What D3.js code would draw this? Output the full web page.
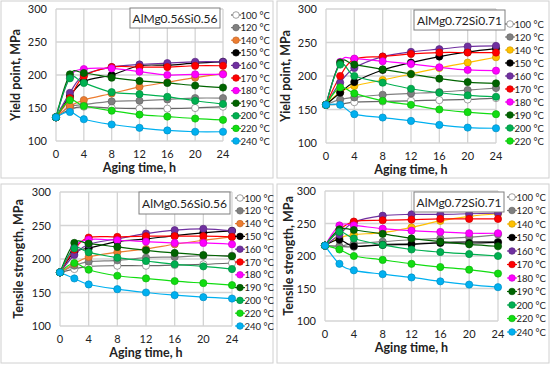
<!DOCTYPE html>
<html>
<head>
<meta charset="utf-8">
<script src="https://cdn.jsdelivr.net/npm/d3@7"></script>
<style>
  body { margin: 0; background: #fff; }
  svg text { font-family: Lato, "Open Sans", sans-serif; }
</style>
</head>
<body>
<div id="chart"></div>
<script>
// aging times (h) and temperatures
var times = [0, 2, 4, 8, 12, 16, 20, 24];
var temps = ['100 °C', '120 °C', '140 °C', '150 °C', '160 °C', '170 °C', '180 °C', '190 °C', '200 °C', '220 °C', '240 °C'];
var yTicks = [100, 150, 200, 250, 300];
var xTicks = [0, 4, 8, 12, 16, 20, 24];

// yield point, AlMg0.56Si0.56
var yield056 = [
  [136, 148, 152, 150, 149, 149, 150, 152],
  [136, 152, 155, 160, 161, 163, 165, 165],
  [136, 153, 162, 172, 182, 189, 196, 202],
  [136, 168, 190, 200, 214, 215, 218, 220],
  [136, 173, 200, 212, 216, 218, 220, 220],
  [136, 165, 198, 212, 212, 212, 214, 214],
  [136, 197, 209, 210, 205, 200, 201, 201],
  [136, 201, 203, 196, 191, 188, 184, 181],
  [136, 195, 188, 174, 171, 167, 161, 156],
  [136, 162, 153, 146, 140, 137, 134, 132],
  [136, 144, 133, 125, 120, 116, 114, 114]
];
// yield point, AlMg0.72Si0.71
var yield072 = [
  [157, 158, 161, 162, 163, 164, 165, 167],
  [157, 165, 168, 172, 174, 176, 179, 182],
  [157, 176, 185, 194, 203, 212, 220, 228],
  [157, 175, 191, 209, 220, 229, 236, 241],
  [157, 190, 212, 229, 236, 240, 244, 245],
  [157, 200, 225, 229, 233, 235, 235, 235],
  [157, 221, 226, 222, 218, 213, 209, 208],
  [157, 220, 217, 210, 203, 196, 191, 189],
  [157, 217, 200, 190, 181, 175, 171, 169],
  [157, 183, 174, 163, 157, 150, 146, 143],
  [157, 157, 143, 138, 133, 127, 123, 122]
];
// tensile strength, AlMg0.56Si0.56
var tensile056 = [
  [180, 185, 189, 190, 190, 191, 192, 194],
  [180, 190, 196, 198, 202, 203, 205, 205],
  [180, 193, 203, 210, 215, 222, 228, 233],
  [180, 210, 216, 226, 230, 235, 239, 242],
  [180, 206, 222, 230, 238, 243, 245, 242],
  [180, 214, 232, 233, 234, 234, 234, 233],
  [180, 218, 229, 228, 226, 224, 224, 222],
  [180, 224, 223, 218, 213, 209, 206, 204],
  [180, 216, 210, 202, 197, 192, 189, 185],
  [180, 194, 184, 175, 171, 167, 164, 161],
  [180, 171, 162, 155, 150, 146, 143, 141]
];
// tensile strength, AlMg0.72Si0.71
var tensile072 = [
  [216, 215, 214, 218, 219, 221, 222, 222],
  [216, 215, 219, 222, 225, 227, 229, 233],
  [216, 228, 233, 236, 244, 254, 261, 265],
  [216, 225, 215, 217, 218, 220, 220, 221],
  [216, 233, 252, 262, 264, 264, 265, 266],
  [216, 240, 253, 255, 256, 257, 257, 257],
  [216, 247, 247, 242, 239, 237, 235, 235],
  [216, 241, 240, 234, 227, 222, 218, 215],
  [216, 237, 227, 217, 210, 206, 203, 200],
  [216, 210, 200, 194, 188, 183, 179, 173],
  [216, 188, 178, 172, 167, 161, 156, 152]
];

var colorsA = ['#ffffff', '#808080', '#ED7D31', '#000000', '#7030A0', '#FF0000', '#FF00FF', '#006400', '#00B050', '#11dd11', '#00B0F0'];
var colorsB = ['#ffffff', '#808080', '#FFC000', '#000000', '#7030A0', '#FF0000', '#FF00FF', '#006400', '#00B050', '#11dd11', '#00B0F0'];

var svg = d3.select('#chart').append('svg')
  .attr('width', 550)
  .attr('height', 365);

function drawPanel(p) {
  var g = svg.append('g');

  // panel frame
  g.append('rect')
    .attr('x', p.box[0]).attr('y', p.box[1])
    .attr('width', p.box[2]).attr('height', p.box[3])
    .style('fill', 'none').style('stroke', '#d0d0d0').style('stroke-width', 1);

  var x = d3.scaleLinear().domain([0, 24]).range([p.x0, p.x1]);
  var y = d3.scaleLinear().domain([100, 300]).range([p.y1, p.y0]);

  // grid
  g.selectAll('.hg').data(yTicks).enter().append('line')
    .attr('x1', p.x0).attr('x2', p.x1)
    .attr('y1', function(d) { return y(d); }).attr('y2', function(d) { return y(d); })
    .style('stroke', '#d4d4d4').style('stroke-width', 1.3);
  g.selectAll('.vg').data(xTicks).enter().append('line')
    .attr('y1', p.y0).attr('y2', p.y1)
    .attr('x1', function(d) { return x(d); }).attr('x2', function(d) { return x(d); })
    .style('stroke', '#d4d4d4').style('stroke-width', 1.3);

  // tick labels
  g.selectAll('.yl').data(yTicks).enter().append('text')
    .text(function(d) { return d; })
    .attr('x', p.x0 - 9)
    .attr('y', function(d) { return y(d) + 4; })
    .attr('text-anchor', 'end')
    .style('font-size', '11px').style('fill', '#222');
  g.selectAll('.xl').data(xTicks).enter().append('text')
    .text(function(d) { return d; })
    .attr('x', function(d) { return x(d); })
    .attr('y', p.y1 + 17)
    .attr('text-anchor', 'middle')
    .style('font-size', '11px').style('fill', '#222');

  // axis titles
  g.append('text')
    .text('Aging time, h')
    .attr('x', (p.x0 + p.x1) / 2)
    .attr('y', p.y1 + 31)
    .attr('text-anchor', 'middle')
    .style('font-size', '12.5px').style('font-weight', 'bold').style('fill', '#222');
  g.append('text')
    .text(p.yTitle)
    .attr('transform', 'translate(' + p.yTitleX + ',' + ((p.y0 + p.y1) / 2) + ') rotate(-90)')
    .attr('text-anchor', 'middle')
    .style('font-size', '12.5px').style('font-weight', 'bold').style('fill', '#222');

  var line = d3.line()
    .x(function(d, i) { return x(times[i]); })
    .y(function(d) { return y(d); })
    .curve(d3.curveCardinal.tension(0));

  // lines
  p.data.forEach(function(s, k) {
    g.append('path')
      .attr('d', line(s))
      .style('fill', 'none')
      .style('stroke', k === 0 ? '#666' : p.colors[k])
      .style('stroke-width', 1.2);
  });
  // markers
  p.data.forEach(function(s, k) {
    g.selectAll('.m' + k).data(s).enter().append('circle')
      .attr('cx', function(d, i) { return x(times[i]); })
      .attr('cy', function(d) { return y(d); })
      .attr('r', 3.6)
      .style('fill', p.colors[k])
      .style('stroke', k === 0 ? '#777' : d3.color(p.colors[k]).darker(0.6))
      .style('stroke-width', 0.7);
  });

  // alloy label box
  g.append('rect')
    .attr('x', p.label[0]).attr('y', p.label[1])
    .attr('width', p.label[2]).attr('height', p.label[3])
    .style('fill', '#fff').style('stroke', '#808080').style('stroke-width', 1);
  g.append('text')
    .text(p.alloy)
    .attr('x', p.label[0] + p.label[2] / 2)
    .attr('y', p.label[1] + p.label[3] / 2 + 4.5)
    .attr('text-anchor', 'middle')
    .style('font-size', '12px').style('fill', '#222');

  // legend
  var n = p.legendCount;
  var leg = g.selectAll('.leg').data(temps.slice(0, n)).enter().append('g')
    .attr('transform', function(d, i) { return 'translate(' + p.legX + ',' + (p.legY + i * p.legStep) + ')'; });
  leg.append('line')
    .attr('x1', -5).attr('x2', 5)
    .style('stroke', function(d, i) { return i === 0 ? '#666' : p.colors[i]; })
    .style('stroke-width', 1.2);
  leg.append('circle')
    .attr('r', 3.3)
    .style('fill', function(d, i) { return p.colors[i]; })
    .style('stroke', function(d, i) { return i === 0 ? '#777' : d3.color(p.colors[i]).darker(0.6); })
    .style('stroke-width', 0.7);
  leg.append('text')
    .text(function(d) { return d; })
    .attr('x', 4.5)
    .attr('y', 3.5)
    .style('font-size', '9.5px').style('fill', '#222');
}

drawPanel({
  box: [1, 1, 272, 177], x0: 56, x1: 223, y0: 9, y1: 141,
  data: yield056, colors: colorsA, yTitle: 'Yield point, MPa', yTitleX: 20,
  alloy: 'AlMg0.56Si0.56', label: [130, 8, 90, 20],
  legX: 236, legY: 15, legStep: 12.6, legendCount: 11
});
drawPanel({
  box: [277, 1, 272, 177], x0: 326, x1: 496, y0: 9, y1: 143,
  data: yield072, colors: colorsB, yTitle: 'Yield point, MPa', yTitleX: 290,
  alloy: 'AlMg0.72Si0.71', label: [414, 10, 91, 20],
  legX: 510, legY: 24, legStep: 13, legendCount: 10
});
drawPanel({
  box: [1, 184, 272, 179], x0: 60, x1: 232, y0: 192, y1: 326,
  data: tensile056, colors: colorsA, yTitle: 'Tensile strength, MPa', yTitleX: 23,
  alloy: 'AlMg0.56Si0.56', label: [139, 192, 91, 22],
  legX: 240, legY: 198, legStep: 12.8, legendCount: 11
});
drawPanel({
  box: [277, 184, 272, 179], x0: 325, x1: 498, y0: 191, y1: 321,
  data: tensile072, colors: colorsB, yTitle: 'Tensile strength, MPa', yTitleX: 293,
  alloy: 'AlMg0.72Si0.71', label: [414, 192, 90, 20],
  legX: 512, legY: 197, legStep: 13.5, legendCount: 11
});
</script>
</body>
</html>
